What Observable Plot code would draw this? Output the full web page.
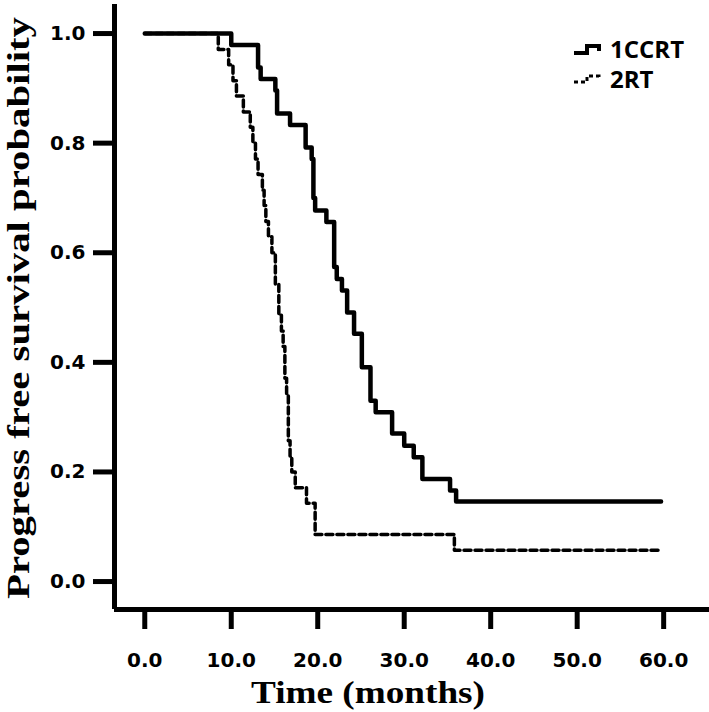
<!DOCTYPE html>
<html><head><meta charset="utf-8">
<script src="https://cdn.jsdelivr.net/npm/d3@7"></script>
<script src="https://cdn.jsdelivr.net/npm/@observablehq/plot@0.6"></script>
<style>
body{margin:0;background:#fff;}
#wrap{position:relative;width:709px;height:712px;}
.leg{position:absolute;left:573px;font-family:"Open Sans",sans-serif;font-weight:700;font-size:24px;line-height:26px;color:#000;display:flex;align-items:center;height:26px;}
.leg svg{margin-right:9px;}
</style></head><body><div id="wrap"></div>
<script>
const groups = ["1CCRT", "2RT"];
const timeCCRT = [0, 10.0, 13.1, 13.4, 15.1, 15.3, 16.8, 18.6, 19.3, 19.5, 19.7, 21.0, 21.9, 22.2, 22.8, 23.4, 24.2, 25.1, 26.1, 26.7, 28.6, 30.0, 31.1, 32.1, 35.3, 36.0, 59.7];
const survCCRT = [1.0, 0.979, 0.938, 0.917, 0.896, 0.854, 0.833, 0.792, 0.771, 0.700, 0.677, 0.656, 0.574, 0.552, 0.531, 0.491, 0.452, 0.391, 0.330, 0.309, 0.270, 0.248, 0.227, 0.187, 0.166, 0.146, 0.146];
const timeRT = [0, 8.5, 9.7, 10.2, 10.6, 11.4, 12.2, 12.5, 12.8, 13.1, 13.6, 13.8, 14.0, 14.3, 14.7, 15.1, 15.5, 15.8, 16.0, 16.2, 16.4, 16.6, 16.8, 17.0, 17.4, 18.7, 19.7, 35.8, 59.7];
const survRT = [1.0, 0.971, 0.943, 0.914, 0.886, 0.857, 0.829, 0.800, 0.771, 0.743, 0.714, 0.686, 0.657, 0.629, 0.600, 0.543, 0.486, 0.457, 0.429, 0.371, 0.343, 0.257, 0.229, 0.200, 0.171, 0.143, 0.086, 0.057, 0.057];
const xTicks = [0, 10, 20, 30, 40, 50, 60];
const yTicks = [0, 0.2, 0.4, 0.6, 0.8, 1.0];
const xLabel = "Time (months)";
const yLabel = "Progress free survival probability";

const rowsCCRT = timeCCRT.map((t, i) => ({group: groups[0], time: t, surv: survCCRT[i]}));
const rowsRT = timeRT.map((t, i) => ({group: groups[1], time: t, surv: survRT[i]}));

const xDomain = [-3.5, 65.3];
const yDomain = [-0.051, 1.053];
const fmt = d3.format(".1f");

const chart = Plot.plot({
  width: 709, height: 712,
  marginLeft: 114, marginRight: 0, marginTop: 4, marginBottom: 103,
  x: {domain: xDomain},
  y: {domain: yDomain},
  style: {background: "white", color: "black"},
  marks: [
    Plot.axisX({ticks: xTicks, tickSize: 20, tickPadding: 23, strokeWidth: 5, fontSize: 20, fontWeight: "bold", tickFormat: fmt, label: null}),
    Plot.axisY({ticks: yTicks, tickSize: 21, tickPadding: 8, strokeWidth: 5, fontSize: 20, fontWeight: "bold", tickFormat: fmt, label: null}),
    Plot.ruleX([xDomain[0]], {strokeWidth: 5}),
    Plot.ruleY([yDomain[0]], {strokeWidth: 5}),
    Plot.line(rowsRT, {x: "time", y: "surv", curve: "step-after", stroke: "black", strokeWidth: 3.5, strokeDasharray: "7,4"}),
    Plot.line(rowsCCRT, {x: "time", y: "surv", curve: "step-after", stroke: "black", strokeWidth: 4.5})
  ]
});

const svg = d3.select(chart);
svg.selectAll('g[aria-label$="tick label"] text, g[aria-label$="tick label"]')
  .attr("font-family", "DejaVu Sans").attr("font-weight", "bold").attr("font-size", 20);

svg.append("text")
  .attr("x", 368).attr("y", 703)
  .attr("text-anchor", "middle")
  .attr("font-family", "Liberation Serif").attr("font-weight", "bold").attr("font-size", 31)
  .attr("textLength", 234).attr("lengthAdjust", "spacingAndGlyphs")
  .text(xLabel);

svg.append("text")
  .attr("transform", "translate(29,308) rotate(-90)")
  .attr("text-anchor", "middle")
  .attr("font-family", "Liberation Serif").attr("font-weight", "bold").attr("font-size", 31)
  .attr("textLength", 582).attr("lengthAdjust", "spacingAndGlyphs")
  .text(yLabel);

const wrap = document.getElementById("wrap");
wrap.appendChild(chart);

const legendItems = [
  {label: groups[0], top: 36, path: "M1,12 H14 V5 H26 V10", width: 4, dash: null},
  {label: groups[1], top: 66, path: "M1,11 H14 V5 H26 V9", width: 3, dash: "4,3"}
];
for (const item of legendItems) {
  const div = document.createElement("div");
  div.className = "leg";
  div.style.top = item.top + "px";
  div.innerHTML = `<svg width="28" height="16"><path d="${item.path}" fill="none" stroke="black" stroke-width="${item.width}" ${item.dash ? `stroke-dasharray="${item.dash}"` : ""}/></svg><span>${item.label}</span>`;
  wrap.appendChild(div);
}
</script>
</body></html>
